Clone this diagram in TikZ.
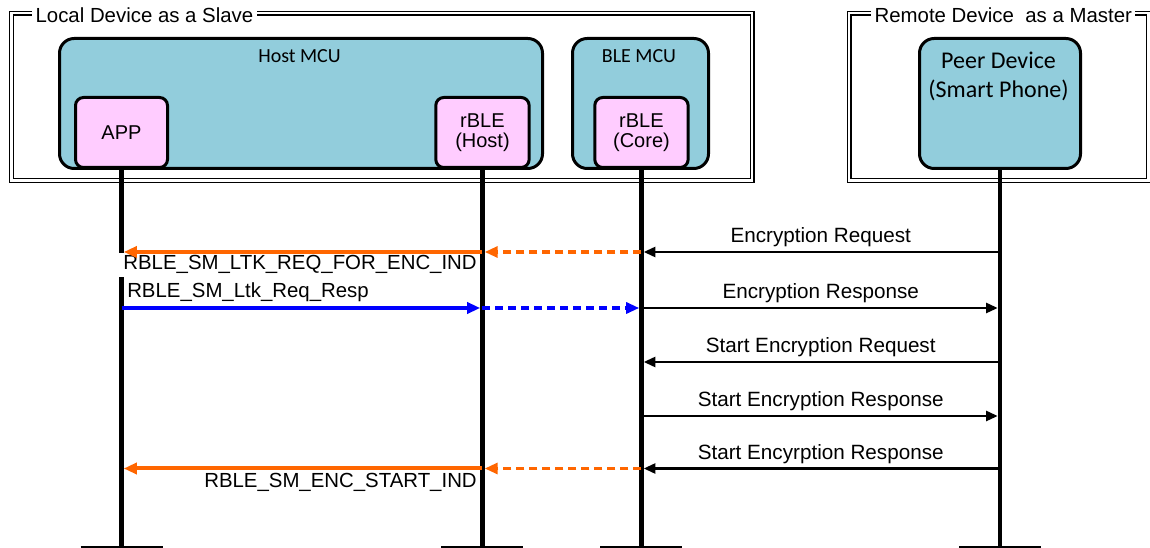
\documentclass[tikz,border=0pt]{standalone}
\usepackage{fontspec}
\setmainfont{Liberation Sans}
\newfontfamily\calibfont{Carlito}
\usetikzlibrary{arrows.meta}
\definecolor{mcublue}{RGB}{146,205,220}
\definecolor{appink}{RGB}{255,204,255}
\definecolor{msgorange}{RGB}{255,102,0}
\definecolor{msgblue}{RGB}{0,0,255}
\begin{document}
\begin{tikzpicture}[x=0.75pt,y=-0.75pt,
  frame/.style={draw, double, double distance=2pt, line width=0.9pt, inner sep=0, anchor=north west},
  ftitle/.style={fill=white, inner xsep=2.5pt, inner ysep=1.5pt, anchor=base west, font=\fontsize{15.3}{18}\selectfont},
  mcubox/.style={draw, line width=2.25pt, fill=mcublue, rounded corners=11pt, inner sep=0, anchor=north west, minimum height=97.5pt},
  mcutitle/.style={anchor=base, inner sep=0, font=\calibfont\fontsize{15}{18}\selectfont},
  swbox/.style={draw, line width=2.25pt, fill=appink, rounded corners=6pt, inner sep=0, anchor=north west, align=center, minimum height=52.5pt, minimum width=70pt, font=\fontsize{15}{14.6}\selectfont},
  lifeline/.style={line width=3.4pt},
  groundline/.style={line width=1.1pt},
  orangesolid/.style={draw=msgorange, line width=3pt, -{Triangle[length=9.75pt,width=8.25pt]}, shorten >=1.7pt},
  orangedash/.style={draw=msgorange, line width=2.3pt, dash pattern=on 6pt off 3.75pt, -{Triangle[length=9.75pt,width=8.25pt]}, shorten >=1.7pt},
  bluesolid/.style={draw=msgblue, line width=3pt, -{Triangle[length=9.75pt,width=8.25pt]}, shorten >=1.7pt},
  bluedash/.style={draw=msgblue, line width=2.3pt, dash pattern=on 6pt off 3.75pt, -{Triangle[length=9.75pt,width=8.25pt]}, shorten >=1.7pt},
  blackmsg/.style={draw=black, line width=1.9pt, -{Triangle[length=8.75pt,width=7.5pt]}, shorten >=1.7pt},
  msgtext/.style={anchor=base, yshift=6.75pt, inner sep=0, font=\fontsize{15.5}{18}\selectfont},
  apitext/.style={inner sep=0, font=\fontsize{15.3}{18}\selectfont}
]
\useasboundingbox (0,0) rectangle (1150,548);
\fill[white] (0,0) rectangle (1150,548);

% frames
\node[frame, minimum width=555.4pt, minimum height=125.6pt] (localF) at (11,12.5) {};
\node[ftitle] (localT) at (32,22.5) {Local Device as a Slave};
\node[frame, minimum width=224.6pt, minimum height=125.6pt] (remoteF) at (848.5,12.5) {};
\node[ftitle] (remoteT) at (871,22.5) {Remote Device\ \ as a Master};

% MCU boxes
\node[mcubox, minimum width=362.25pt] (hostmcu) at (58,37) {};
\node[mcutitle] (hostT) at (299.5,63) {Host MCU};
\node[mcubox, minimum width=102pt] (blemcu) at (571,37) {};
\node[mcutitle] (bleT) at (639,63) {BLE MCU};
\node[mcubox, minimum width=120.75pt] (peer) at (918,37) {};
\node[anchor=north, inner sep=0, align=center, font=\calibfont\fontsize{18}{21.75}\selectfont] (peerT) at (998.5,51.5) {Peer Device\\(Smart Phone)};

% software boxes
\node[swbox, minimum width=69pt] (app) at (74,96) {APP};
\node[swbox] (host) at (434.3,96) {rBLE\\(Host)};
\node[swbox] (core) at (593.3,96) {rBLE\\(Core)};

% lifeline ends
\coordinate (bottom) at (0,547);
\coordinate (appE) at (app.south |- bottom);
\coordinate (hostE) at (host.south |- bottom);
\coordinate (coreE) at (core.south |- bottom);
\coordinate (peerE) at (peer.south |- bottom);

% message rows
\coordinate (y1) at (0,252);
\coordinate (y2) at (0,308);
\coordinate (y3) at (0,362);
\coordinate (y4) at (0,416);
\coordinate (y5) at (0,468.5);

% APP lifeline, then the label that masks it
\draw[lifeline] (app.south) -- (appE);
\node[fill=white, inner xsep=6pt, inner ysep=2pt, anchor=base east, font=\fontsize{15.3}{18}\selectfont] (ind1) at (485,270) {RBLE\_SM\_LTK\_REQ\_FOR\_ENC\_IND};

\draw[lifeline] (host.south) -- (hostE);
\draw[lifeline] (core.south) -- (coreE);
\draw[lifeline] (peer.south) -- (peerE);

\foreach \e in {appE,hostE,coreE,peerE}
  \draw[groundline] ([xshift=-30.75pt]\e) -- ([xshift=30.75pt]\e);

% messages
\draw[blackmsg] (peer.south |- y1) -- node[msgtext] (t1) {Encryption Request} (core.south |- y1);
\draw[orangedash] (core.south |- y1) -- (host.south |- y1);
\draw[orangesolid] (host.south |- y1) -- (app.south |- y1);

\node[apitext, anchor=base west] (req) at (127,298) {RBLE\_SM\_Ltk\_Req\_Resp};
\draw[bluesolid] (app.south |- y2) -- (host.south |- y2);
\draw[bluedash] (host.south |- y2) -- (core.south |- y2);
\draw[blackmsg] (core.south |- y2) -- node[msgtext] (t2) {Encryption Response} (peer.south |- y2);

\draw[blackmsg] (peer.south |- y3) -- node[msgtext] (t3) {Start Encryption Request} (core.south |- y3);
\draw[blackmsg] (core.south |- y4) -- node[msgtext] (t4) {Start Encryption Response} (peer.south |- y4);

\draw[blackmsg] (peer.south |- y5) -- node[msgtext] (t5) {Start Encyrption Response} (core.south |- y5);
\draw[orangedash] (core.south |- y5) -- (host.south |- y5);
\draw[orangesolid] (host.south |- y5) -- (app.south |- y5);
\node[apitext, anchor=base east] (ind2) at (477,487.5) {RBLE\_SM\_ENC\_START\_IND};
\end{tikzpicture}
\end{document}
